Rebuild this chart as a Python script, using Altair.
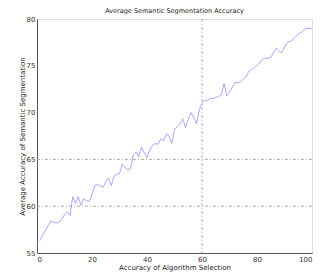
import altair as alt
import pandas as pd

xs = list(range(1, 101))
ys = [56.3, 56.9, 57.4, 57.9, 58.4, 58.3, 58.2, 58.3, 58.6, 59.1,
      59.4, 59.0, 61.0, 60.3, 61.0, 60.1, 60.8, 60.6, 60.5, 61.2,
      62.2, 62.3, 62.2, 62.0, 62.6, 63.0, 62.2, 63.2, 63.4, 63.5,
      64.5, 64.1, 63.9, 64.0, 65.5, 65.8, 65.3, 66.3, 65.7, 65.2,
      66.0, 66.5, 66.7, 66.6, 67.2, 67.0, 67.7, 67.5, 66.7, 68.2,
      68.5, 68.8, 69.3, 68.4, 69.3, 70.0, 69.5, 68.8, 70.3, 71.0,
      71.3, 71.3, 71.5, 71.5, 71.6, 71.7, 71.9, 73.1, 71.8, 72.2,
      72.7, 73.2, 73.2, 73.3, 73.6, 73.8, 74.4, 74.6, 74.8, 75.0,
      75.3, 75.7, 75.8, 75.8, 75.9, 76.4, 76.9, 76.6, 76.4, 77.0,
      77.5, 77.6, 77.8, 78.1, 78.4, 78.6, 78.8, 79.0, 79.0, 79.0]
hlines = [60, 65]
vlines = [60]
x_ticks = [0, 20, 40, 60, 80, 100]
y_ticks = [55, 60, 65, 70, 75, 80]

df = pd.DataFrame({"x": xs, "y": ys})
hdf = pd.DataFrame({"y": hlines})
vdf = pd.DataFrame({"x": vlines})

FONT = "DejaVu Sans"
xscale = alt.Scale(domain=[0, 100], nice=False, zero=False)
yscale = alt.Scale(domain=[55, 80], nice=False, zero=False)

xaxis = alt.Axis(values=x_ticks, title="Accuracy of Algorithm Selection", grid=False,
                 domainColor="#555555", ticks=False,
                 labelFont=FONT, labelFontSize=7, labelColor="#333333", labelPadding=2,
                 titleFont=FONT, titleFontSize=7, titleFontWeight="normal",
                 titleColor="#222222", titlePadding=1)
yaxis = alt.Axis(values=y_ticks, title="Average Accuracy of Semantic Segmentation", grid=False,
                 domainColor="#555555", ticks=False,
                 labelFont=FONT, labelFontSize=7, labelColor="#333333", labelPadding=2,
                 titleFont=FONT, titleFontSize=7, titleFontWeight="normal",
                 titleColor="#222222", titlePadding=1)

line = alt.Chart(df).mark_line(color="#9090ff", strokeWidth=0.8).encode(
    x=alt.X("x:Q", scale=xscale, axis=xaxis),
    y=alt.Y("y:Q", scale=yscale, axis=yaxis),
)
hr = alt.Chart(hdf).mark_rule(color="#999999", strokeWidth=0.8, strokeDash=[3, 2, 1, 2]).encode(
    y=alt.Y("y:Q", scale=yscale)
)
vr = alt.Chart(vdf).mark_rule(color="#999999", strokeWidth=0.8, strokeDash=[3, 2, 1, 2]).encode(
    x=alt.X("x:Q", scale=xscale)
)

chart = alt.layer(hr, vr, line).properties(
    width=275, height=234,
    title=alt.TitleParams("Average Semantic Segmentation Accuracy", font=FONT, fontSize=6.5,
                          fontWeight="normal", color="#222222", offset=1),
    autosize=alt.AutoSizeParams(type="none"),
    padding={"left": 29, "top": 11, "right": 13, "bottom": 20},
).configure_view(stroke=None).configure(background="white")

chart.save("out.html", embed_options={"renderer": "svg", "actions": False})
